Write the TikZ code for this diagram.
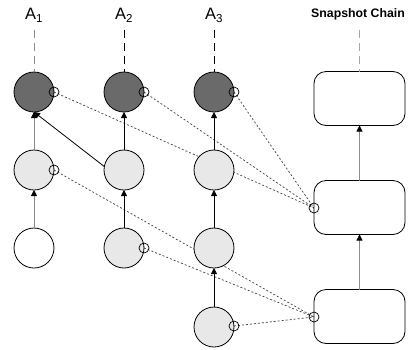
\documentclass[tikz,border=0pt]{standalone}
\usepackage{fontspec}
\setmainfont{Liberation Sans}
\usetikzlibrary{arrows.meta}
\definecolor{darkfill}{HTML}{6A6A6A}
\definecolor{lightfill}{HTML}{E8E8E8}
\definecolor{linegray}{HTML}{8A8A8A}
\begin{document}
\begin{tikzpicture}[x=1pt,y=-1pt,
  every node/.style={inner sep=0pt, outer sep=0pt},
  bigc/.style={circle, draw=black, line width=0.8pt, minimum size=40pt},
  darkc/.style={bigc, fill=darkfill},
  lightc/.style={bigc, fill=lightfill},
  whitec/.style={bigc, fill=white},
  snapbox/.style={draw=black, line width=0.8pt, fill=white, rounded corners=12pt, minimum width=91pt, minimum height=54pt},
  portc/.style={circle, draw=black, line width=0.7pt, minimum size=10pt},
  link/.style={dash pattern=on 2pt off 2pt, line width=0.7pt, draw=black!75},
  uparrow/.style={line width=0.8pt, -{Triangle[length=6pt,width=6pt,color=black]}},
  toplinedash/.style={line width=0.8pt, dash pattern=on 8pt off 5pt},
  lbl/.style={anchor=base, font=\fontsize{16.5}{19}\selectfont}
]
\useasboundingbox (0,0) rectangle (410,349);

% labels
\node[lbl] (l1) at (34,19.5) {A\textsubscript{1}};
\node[lbl] (l2) at (124,19.5) {A\textsubscript{2}};
\node[lbl] (l3) at (214,19.5) {A\textsubscript{3}};
\node[anchor=base, font=\bfseries\fontsize{12.3}{14}\selectfont] (lsc) at (358,17) {Snapshot Chain};

\coordinate (t1) at (34,30);
\coordinate (t2) at (124,30);
\coordinate (t3) at (214,30);
\coordinate (t4) at (359.5,30);

% port positions (coordinates)
\coordinate (p11) at (54,92);
\coordinate (p21) at (144,92);
\coordinate (p31) at (234,92);
\coordinate (p12) at (54,170);
\coordinate (p23) at (144,248);
\coordinate (p34) at (234,326);
\coordinate (pb2) at (314,208);
\coordinate (pb3) at (314,317);

% dotted links (behind nodes)
\draw[link] (p11) -- (pb2);
\draw[link] (p21) -- (pb2);
\draw[link] (p31) -- (pb2);
\draw[link] (p12) -- (pb3);
\draw[link] (p23) -- (pb3);
\draw[link] (p34) -- (pb3);

% nodes
\node[darkc] (a11) at (34,92) {};
\node[lightc] (a12) at (34,170) {};
\node[whitec] (a13) at (34,248) {};
\node[darkc] (a21) at (124,92) {};
\node[lightc] (a22) at (124,170) {};
\node[lightc] (a23) at (124,248) {};
\node[darkc] (a31) at (214,92) {};
\node[lightc] (a32) at (214,170) {};
\node[lightc] (a33) at (214,248) {};
\node[lightc] (a34) at (214,327) {};
\node[snapbox] (b1) at (359.5,98.5) {};
\node[snapbox] (b2) at (359.5,207.5) {};
\node[snapbox] (b3) at (359.5,316.5) {};

% ports
\foreach \p in {p11,p21,p31,p12,p23,p34,pb2,pb3}
  \node[portc] (o\p) at (\p) {};

% top dashed lines
\draw[toplinedash, draw=linegray] (t1) -- (a11.north);
\draw[toplinedash] (t2) -- (a21.north);
\draw[toplinedash] (t3) -- (a31.north);
\draw[toplinedash, draw=black!35] (t4) -- (b1.north);

% vertical arrows
\draw[uparrow, draw=linegray] (a12.north) -- (a11.south);
\draw[uparrow, draw=linegray] (a13.north) -- (a12.south);
\draw[uparrow] (a22.north) -- (a21.south);
\draw[uparrow] (a23.north) -- (a22.south);
\draw[uparrow] (a32.north) -- (a31.south);
\draw[uparrow] (a33.north) -- (a32.south);
\draw[uparrow] (a34.north) -- (a33.south);
\draw[uparrow, draw=black!45] (b3.north) -- (b2.south);
\draw[uparrow, draw=black!45] (b2.north) -- (b1.south);
% diagonal
\draw[uparrow] (a22.170) -- (a11.south);
\end{tikzpicture}
\end{document}
